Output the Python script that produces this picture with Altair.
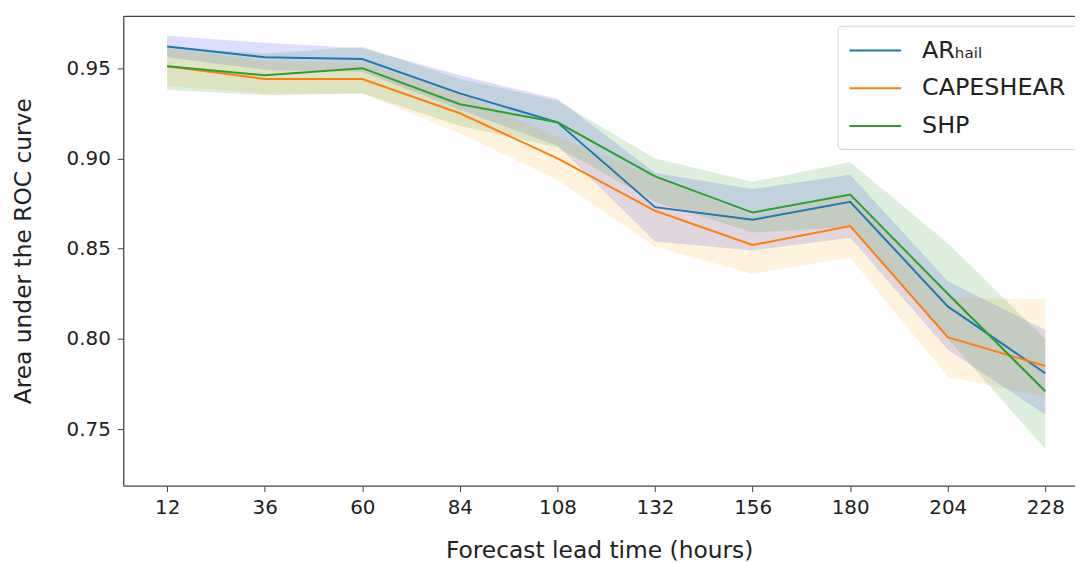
import altair as alt
import pandas as pd

lead = [12, 36, 60, 84, 108, 132, 156, 180, 204, 228]
series = ["AR_hail", "CAPESHEAR", "SHP"]

ar_mean = [0.962, 0.956, 0.955, 0.936, 0.920, 0.873, 0.866, 0.876, 0.818, 0.781]
ar_lo = [0.956, 0.949, 0.948, 0.927, 0.907, 0.854, 0.849, 0.856, 0.794, 0.758]
ar_hi = [0.968, 0.964, 0.961, 0.946, 0.933, 0.892, 0.883, 0.891, 0.832, 0.805]

cs_mean = [0.951, 0.944, 0.944, 0.925, 0.900, 0.871, 0.852, 0.8625, 0.801, 0.785]
cs_lo = [0.940, 0.936, 0.936, 0.914, 0.888, 0.851, 0.836, 0.845, 0.779, 0.768]
cs_hi = [0.961, 0.954, 0.953, 0.936, 0.912, 0.890, 0.868, 0.880, 0.823, 0.822]

shp_mean = [0.951, 0.946, 0.950, 0.930, 0.920, 0.890, 0.870, 0.880, 0.825, 0.771]
shp_lo = [0.938, 0.935, 0.936, 0.918, 0.906, 0.876, 0.859, 0.862, 0.800, 0.739]
shp_hi = [0.962, 0.958, 0.962, 0.944, 0.932, 0.900, 0.887, 0.898, 0.853, 0.800]

line_colors = ["#1f77b4", "#ff7f0e", "#2ca02c"]
band_colors = ["#0000ff", "#ffa500", "#008000"]

x_ticks = lead
y_ticks = [0.75, 0.80, 0.85, 0.90, 0.95]

rows = []
for name, m, lo, hi in [("AR_hail", ar_mean, ar_lo, ar_hi),
                        ("CAPESHEAR", cs_mean, cs_lo, cs_hi),
                        ("SHP", shp_mean, shp_lo, shp_hi)]:
    for t, a, b, c in zip(lead, m, lo, hi):
        rows.append({"lead": t, "series": name, "auc": a, "lo": b, "hi": c})
df = pd.DataFrame(rows)

FONT = "DejaVu Sans"
xscale = alt.Scale(domain=[1.2, 235.3], nice=False, zero=False)
yscale = alt.Scale(domain=[0.7187, 0.979], nice=False, zero=False)

x_axis = alt.Axis(values=x_ticks, title="Forecast lead time (hours)", grid=False,
                  tickSize=6, labelPadding=6, titlePadding=21,
                  domainColor="#444", tickColor="#444", domainWidth=1.3)
y_axis = alt.Axis(values=y_ticks, format=".2f", title="Area under the ROC curve", grid=False,
                  tickSize=6, labelPadding=7, titlePadding=31,
                  domainColor="#444", tickColor="#444", domainWidth=1.3)

base = alt.Chart(df)

band_layers = []
for i, (name, col) in enumerate(zip(series, band_colors)):
    band_layers.append(
        base.transform_filter(alt.datum.series == name).mark_area(
            opacity=0.13, interpolate="linear", color=col
        ).encode(
            x=alt.X("lead:Q", scale=xscale, axis=x_axis if i == 0 else None),
            y=alt.Y("lo:Q", scale=yscale, axis=y_axis),
            y2="hi:Q",
        )
    )

legend = alt.Legend(
    title=None, orient="none", legendX=719, legendY=10,
    symbolType="M-1,0H3", symbolSize=676, symbolStrokeWidth=2,
    labelFont=FONT, labelFontSize=24, labelColor="#222",
    labelExpr="datum.label == 'AR_hail' ? 'ARₕₐᵢₗ' : datum.label",
    strokeColor="#d0d0d0", cornerRadius=4, fillColor="white", padding=11,
    rowPadding=12, labelOffset=46,
)

lines = base.mark_line(strokeWidth=2).encode(
    x=alt.X("lead:Q", scale=xscale, axis=None),
    y=alt.Y("auc:Q", scale=yscale),
    stroke=alt.Stroke("series:N", scale=alt.Scale(domain=series, range=line_colors), legend=legend),
)

top = base.mark_line(opacity=0).encode(
    x=alt.X("lead:Q", scale=xscale,
            axis=alt.Axis(orient="top", labels=False, ticks=False, title=None, grid=False,
                          domainColor="#444", domainWidth=1.3)),
    y=alt.Y("auc:Q", scale=yscale),
    detail="series:N",
)

chart = alt.layer(*band_layers, lines, top).resolve_axis(x="independent").properties(
    width=958, height=473,
    padding={"left": 116, "top": 6, "right": 0, "bottom": 80},
    autosize="none",
    background="white",
).configure_view(stroke=None).configure_axis(
    labelFont=FONT, titleFont=FONT, labelFontSize=20, titleFontSize=23.5,
    labelColor="#222", titleColor="#222", titleFontWeight="normal",
)

chart.save("out.html", embed_options={"renderer": "svg", "actions": False})
